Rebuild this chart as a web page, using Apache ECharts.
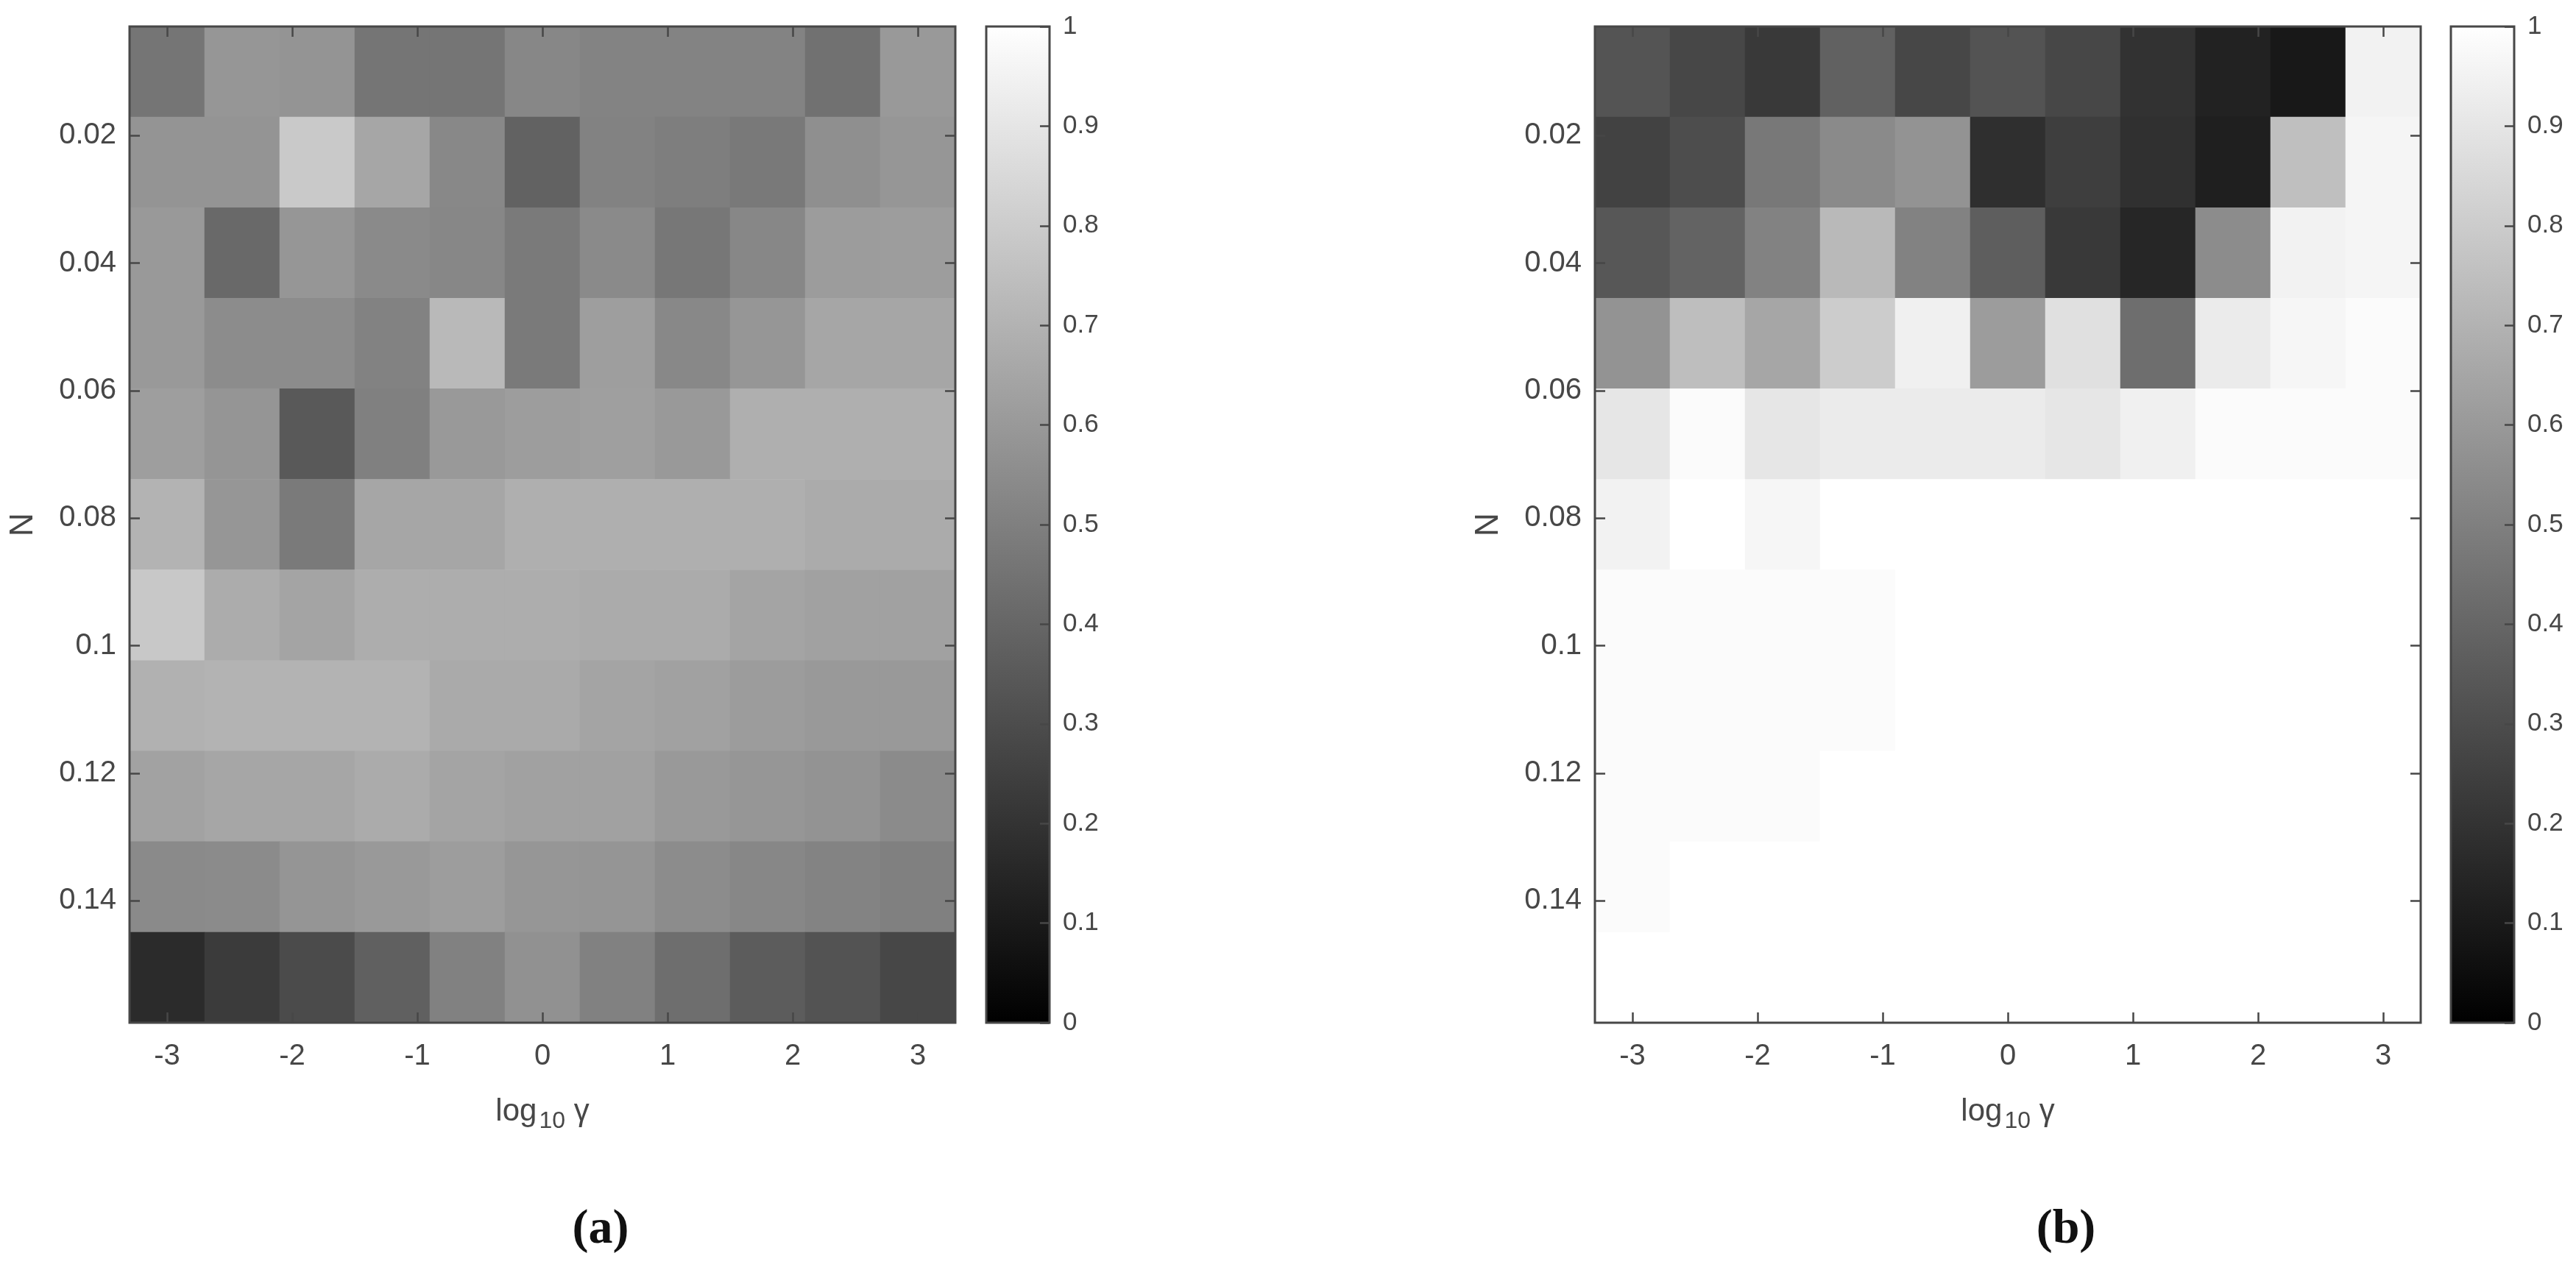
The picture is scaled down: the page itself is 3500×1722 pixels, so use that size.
<!DOCTYPE html>
<html>
<head>
<meta charset="utf-8">
<title>heatmaps</title>
<script src="https://cdn.jsdelivr.net/npm/echarts@6/dist/echarts.min.js"></script>
<style>
  html, body { margin: 0; padding: 0; background: #fff; }
  #chart { width: 3500px; height: 1722px; }
</style>
</head>
<body>
<div id="chart"></div>
<script>
// cell centres
const logGamma = [-3, -2.4, -1.8, -1.2, -0.6, 0, 0.6, 1.2, 1.8, 2.4, 3];
const nValues = [0.01, 0.0242, 0.0384, 0.0526, 0.0668, 0.081, 0.0952, 0.1094, 0.1236, 0.1378, 0.152];
const xTicks = [-3, -2, -1, 0, 1, 2, 3];
const yTicks = [0.02, 0.04, 0.06, 0.08, 0.1, 0.12, 0.14];

// rows = N (top to bottom), cols = log10 gamma (left to right)
const valuesA = [
  [0.46, 0.59, 0.58, 0.46, 0.46, 0.53, 0.515, 0.515, 0.515, 0.445, 0.60],
  [0.58, 0.58, 0.79, 0.65, 0.535, 0.385, 0.51, 0.495, 0.475, 0.56, 0.59],
  [0.60, 0.41, 0.59, 0.54, 0.53, 0.48, 0.54, 0.465, 0.53, 0.61, 0.615],
  [0.60, 0.55, 0.55, 0.51, 0.725, 0.48, 0.62, 0.535, 0.59, 0.65, 0.65],
  [0.62, 0.585, 0.35, 0.50, 0.60, 0.615, 0.625, 0.60, 0.685, 0.685, 0.685],
  [0.70, 0.59, 0.48, 0.65, 0.65, 0.685, 0.685, 0.685, 0.685, 0.67, 0.67],
  [0.785, 0.675, 0.645, 0.68, 0.68, 0.68, 0.67, 0.67, 0.645, 0.63, 0.63],
  [0.695, 0.70, 0.70, 0.70, 0.665, 0.665, 0.645, 0.63, 0.61, 0.60, 0.60],
  [0.635, 0.65, 0.65, 0.67, 0.645, 0.63, 0.63, 0.60, 0.59, 0.575, 0.545],
  [0.54, 0.545, 0.585, 0.60, 0.615, 0.59, 0.585, 0.55, 0.53, 0.515, 0.50],
  [0.17, 0.23, 0.295, 0.375, 0.505, 0.57, 0.505, 0.43, 0.36, 0.325, 0.28]
];
const valuesB = [
  [0.33, 0.28, 0.225, 0.38, 0.28, 0.325, 0.28, 0.195, 0.135, 0.095, 0.95],
  [0.26, 0.30, 0.47, 0.54, 0.575, 0.185, 0.245, 0.19, 0.12, 0.75, 0.96],
  [0.34, 0.39, 0.51, 0.725, 0.51, 0.37, 0.225, 0.15, 0.55, 0.95, 0.96],
  [0.575, 0.745, 0.65, 0.80, 0.94, 0.61, 0.88, 0.43, 0.92, 0.965, 0.985],
  [0.90, 0.985, 0.90, 0.92, 0.92, 0.92, 0.90, 0.94, 0.985, 0.985, 0.985],
  [0.95, 1, 0.965, 1, 1, 1, 1, 1, 1, 1, 1],
  [0.985, 0.985, 0.985, 0.985, 1, 1, 1, 1, 1, 1, 1],
  [0.985, 0.985, 0.985, 0.985, 1, 1, 1, 1, 1, 1, 1],
  [0.985, 0.985, 0.985, 1, 1, 1, 1, 1, 1, 1, 1],
  [0.985, 1, 1, 1, 1, 1, 1, 1, 1, 1, 1],
  [1, 1, 1, 1, 1, 1, 1, 1, 1, 1, 1]
];

const xRange = [-3.3, 3.3];
const yRange = [0.0029, 0.1591];
const cbRange = [0, 1];

const ink = '#474747';
const font = "'Liberation Sans', Arial, Helvetica, sans-serif";

const chart = echarts.init(document.getElementById('chart'), null, { renderer: 'canvas' });

function toCells(matrix) {
  const out = [];
  matrix.forEach((row, r) => row.forEach((v, c) => out.push([c, r, v])));
  return out;
}

function fmt(v) {
  return String(+(+v).toFixed(4));
}

const panels = [
  { left: 176, cbLeft: 1340, caption: '(a)', capX: 816, data: valuesA },
  { left: 2167, cbLeft: 3330, caption: '(b)', capX: 2807, data: valuesB }
];

const grid = [], xAxis = [], yAxis = [], series = [], graphic = [];
const noLine = { show: false, onZero: false };

panels.forEach((p, i) => {
  const g = grid.length;
  grid.push({
    left: p.left, top: 36, width: 1122, height: 1354,
    show: true, borderWidth: 3, borderColor: ink, backgroundColor: 'transparent', z: 10
  });
  grid.push({ left: p.cbLeft, top: 36, width: 86, height: 1354 });

  const xi = xAxis.length, yi = yAxis.length;
  // heatmap category axes (hidden)
  xAxis.push({ type: 'category', gridIndex: g, data: logGamma.map(String), show: false });
  yAxis.push({ type: 'category', gridIndex: g, data: nValues.map(String), inverse: true, show: false });

  // visible value axes carrying the ticks
  const tickStyle = { inside: true, length: 14, lineStyle: { color: ink, width: 2.5 } };
  xAxis.push({
    type: 'value', gridIndex: g, position: 'bottom', min: xRange[0], max: xRange[1], z: 10,
    axisLine: noLine, splitLine: { show: false },
    axisTick: Object.assign({ customValues: xTicks }, tickStyle),
    axisLabel: { customValues: xTicks, formatter: fmt, color: ink, fontSize: 40, fontFamily: font, margin: 26 },
    name: '{a|log}{b|10}{c| γ}', nameLocation: 'middle', nameGap: 92,
    nameTextStyle: {
      color: ink, fontFamily: font,
      rich: {
        a: { fontSize: 42, fontFamily: font, color: ink },
        b: { fontSize: 32, fontFamily: font, color: ink, padding: [26, 0, 0, 3] },
        c: { fontSize: 42, fontFamily: font, color: ink }
      }
    }
  });
  xAxis.push({
    type: 'value', gridIndex: g, position: 'top', min: xRange[0], max: xRange[1], z: 10,
    axisLine: noLine, splitLine: { show: false },
    axisTick: Object.assign({ customValues: xTicks }, tickStyle),
    axisLabel: { show: false }
  });
  yAxis.push({
    type: 'value', gridIndex: g, position: 'left', min: yRange[0], max: yRange[1], inverse: true, z: 10,
    axisLine: noLine, splitLine: { show: false },
    axisTick: Object.assign({ customValues: yTicks }, tickStyle),
    axisLabel: { customValues: yTicks, formatter: fmt, color: ink, fontSize: 40, fontFamily: font, margin: 18 },
    name: 'N', nameLocation: 'middle', nameGap: 122,
    nameTextStyle: { color: ink, fontSize: 44, fontFamily: font }
  });
  yAxis.push({
    type: 'value', gridIndex: g, position: 'right', min: yRange[0], max: yRange[1], inverse: true, z: 10,
    axisLine: noLine, splitLine: { show: false },
    axisTick: Object.assign({ customValues: yTicks }, tickStyle),
    axisLabel: { show: false }
  });

  series.push({
    type: 'heatmap', name: p.caption, xAxisIndex: xi, yAxisIndex: yi,
    data: toCells(p.data), emphasis: { disabled: true }, progressive: 0
  });

  // colorbar
  const cx = xAxis.length, cy = yAxis.length;
  xAxis.push({ type: 'value', gridIndex: g + 1, min: 0, max: 1, show: false, axisLine: noLine });
  yAxis.push({
    type: 'value', gridIndex: g + 1, position: 'right', min: cbRange[0], max: cbRange[1], interval: 0.1, z: 10,
    axisLine: noLine, splitLine: { show: false },
    axisTick: { inside: true, length: 13, lineStyle: { color: ink, width: 2.5 } },
    axisLabel: { color: ink, fontSize: 35, fontFamily: font, margin: 18, formatter: fmt }
  });
  series.push({
    type: 'custom', xAxisIndex: cx, yAxisIndex: cy, silent: true,
    data: [[cbRange[0], cbRange[0]]],
    renderItem(params, api) {
      const p0 = api.coord([0, cbRange[0]]);
      const p1 = api.coord([1, cbRange[1]]);
      return {
        type: 'rect',
        shape: { x: p0[0], y: p1[1], width: p1[0] - p0[0], height: p0[1] - p1[1] },
        style: {
          fill: new echarts.graphic.LinearGradient(0, 1, 0, 0, [
            { offset: 0, color: '#000000' }, { offset: 1, color: '#ffffff' }
          ]),
          stroke: ink, lineWidth: 3
        }
      };
    }
  });

  // subfigure caption
  graphic.push({
    type: 'text', x: p.capX, y: 1672,
    style: {
      text: p.caption, fill: '#111', font: "bold 66px 'Liberation Serif', 'Times New Roman', serif",
      textAlign: 'center', textVerticalAlign: 'middle'
    }
  });
});

chart.setOption({
  backgroundColor: '#ffffff',
  animation: false,
  grid, xAxis, yAxis, series, graphic,
  visualMap: {
    type: 'continuous', min: 0, max: 1, show: false, seriesIndex: [0, 2],
    inRange: { color: ['#000000', '#ffffff'] }
  }
});
</script>
</body>
</html>
